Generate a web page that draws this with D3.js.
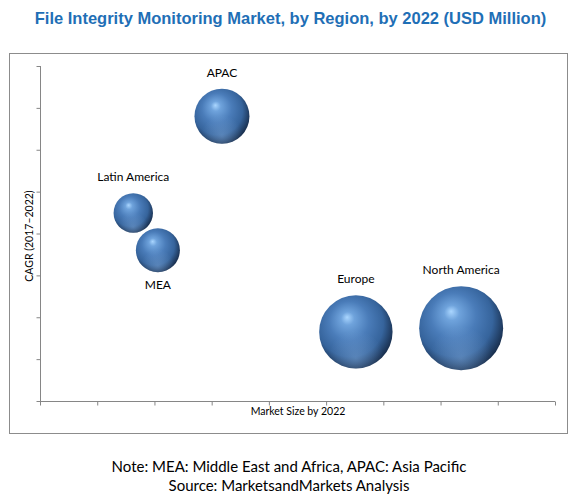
<!DOCTYPE html>
<html>
<head>
<meta charset="utf-8">
<script src="https://cdn.jsdelivr.net/npm/d3@7"></script>
<style>
  body { margin: 0; background: #fff; }
  svg text { font-family: Lato, "Liberation Sans", sans-serif; }
</style>
</head>
<body>
<div id="chart"></div>
<script>
// data (axes carry no tick labels)
const regions = ["APAC", "Latin America", "MEA", "Europe", "North America"];
const marketSize = [3.18, 1.63, 2.06, 5.52, 7.36];   // x
const cagr = [6.80, 4.49, 3.60, 1.65, 1.74];          // y
const bubbleSize = [756, 388, 484, 1347, 1764];       // area
const labelPos = ["top", "top", "bottom", "top", "top"];
const xTicks = d3.range(0, 10);
const yTicks = d3.range(0, 9);

const width = 581, height = 504;
const margin = { left: 40, right: 26, top: 66, bottom: 103 };

const svg = d3.select("#chart").append("svg")
    .attr("width", width)
    .attr("height", height);

const defs = svg.append("defs");
const grad = defs.append("radialGradient")
    .attr("id", "sphere")
    .attr("cx", "44%").attr("cy", "42%").attr("r", "60%")
    .attr("fx", "38%").attr("fy", "30%");
grad.append("stop").attr("offset", "0%").attr("stop-color", "#aad6ff");
grad.append("stop").attr("offset", "15%").attr("stop-color", "#6fa3dc");
grad.append("stop").attr("offset", "45%").attr("stop-color", "#4a7cb9");
grad.append("stop").attr("offset", "75%").attr("stop-color", "#36649c");
grad.append("stop").attr("offset", "100%").attr("stop-color", "#172c4a");

const shine = defs.append("radialGradient")
    .attr("id", "shine")
    .attr("cx", "50%").attr("cy", "86%").attr("r", "38%");
shine.append("stop").attr("offset", "0%").attr("stop-color", "#8fb8e8").attr("stop-opacity", 0.4);
shine.append("stop").attr("offset", "100%").attr("stop-color", "#8fb8e8").attr("stop-opacity", 0);

// title
svg.append("text")
    .attr("x", width / 2)
    .attr("y", 24)
    .attr("text-anchor", "middle")
    .style("font-family", "'Liberation Sans Narrow', 'Arial Narrow', sans-serif")
    .style("font-weight", "bold")
    .style("font-size", "16.5px")
    .style("fill", "#1f6fb6")
    .text("File Integrity Monitoring Market, by Region, by 2022 (USD Million)");

// chart frame
svg.append("rect")
    .attr("x", 9.5).attr("y", 53.5)
    .attr("width", 558).attr("height", 380)
    .attr("fill", "none")
    .attr("stroke", "#8c8c8c")
    .attr("stroke-width", 1);

const x = d3.scaleLinear().domain([0, 9]).range([margin.left, 555]);
const y = d3.scaleLinear().domain([0, 8]).range([401, margin.top]);
const r = d3.scaleSqrt().domain([0, d3.max(bubbleSize)]).range([0, 42]);

svg.append("g")
    .attr("transform", "translate(0,401.5)")
    .call(d3.axisBottom(x).tickValues(xTicks).tickSize(4).tickFormat(""))
    .call(g => g.selectAll("line, path").attr("stroke", "#868686"))
    .call(g => g.select(".domain").attr("d", `M${x(0)},0H${x(9)}`));

svg.append("g")
    .attr("transform", "translate(40.5,0)")
    .call(d3.axisLeft(y).tickValues(yTicks).tickSize(4).tickFormat(""))
    .call(g => g.selectAll("line, path").attr("stroke", "#868686"))
    .call(g => g.select(".domain").attr("d", `M0,${y(0)}V${y(8)}`));

svg.append("text")
    .attr("x", 298)
    .attr("y", 415)
    .attr("text-anchor", "middle")
    .style("font-size", "10.5px")
    .style("fill", "#000")
    .text("Market Size by 2022");

svg.append("text")
    .attr("transform", "translate(33,236) rotate(-90)")
    .attr("text-anchor", "middle")
    .style("font-size", "10.5px")
    .style("fill", "#000")
    .text("CAGR (2017\u20132022)");

const points = regions.map((name, i) => ({
    name, x: marketSize[i], y: cagr[i], size: bubbleSize[i], pos: labelPos[i]
}));

const bubbles = svg.append("g").selectAll("g")
    .data(points)
    .join("g")
    .attr("transform", d => `translate(${x(d.x)},${y(d.y)})`);

bubbles.append("circle")
    .attr("r", d => r(d.size))
    .attr("fill", "url(#sphere)");
bubbles.append("circle")
    .attr("r", d => r(d.size))
    .attr("fill", "url(#shine)");

bubbles.append("text")
    .attr("text-anchor", "middle")
    .attr("y", d => d.pos === "top" ? -r(d.size) - 12 : r(d.size) + 17)
    .style("font-size", "12px")
    .style("fill", "#000")
    .text(d => d.name);

svg.append("text")
    .attr("x", 289)
    .attr("y", 472)
    .attr("text-anchor", "middle")
    .style("font-size", "15px")
    .style("fill", "#000")
    .text("Note: MEA: Middle East and Africa, APAC: Asia Pacific");

svg.append("text")
    .attr("x", 289)
    .attr("y", 491)
    .attr("text-anchor", "middle")
    .style("font-size", "15px")
    .style("fill", "#000")
    .text("Source: MarketsandMarkets Analysis");
</script>
</body>
</html>
